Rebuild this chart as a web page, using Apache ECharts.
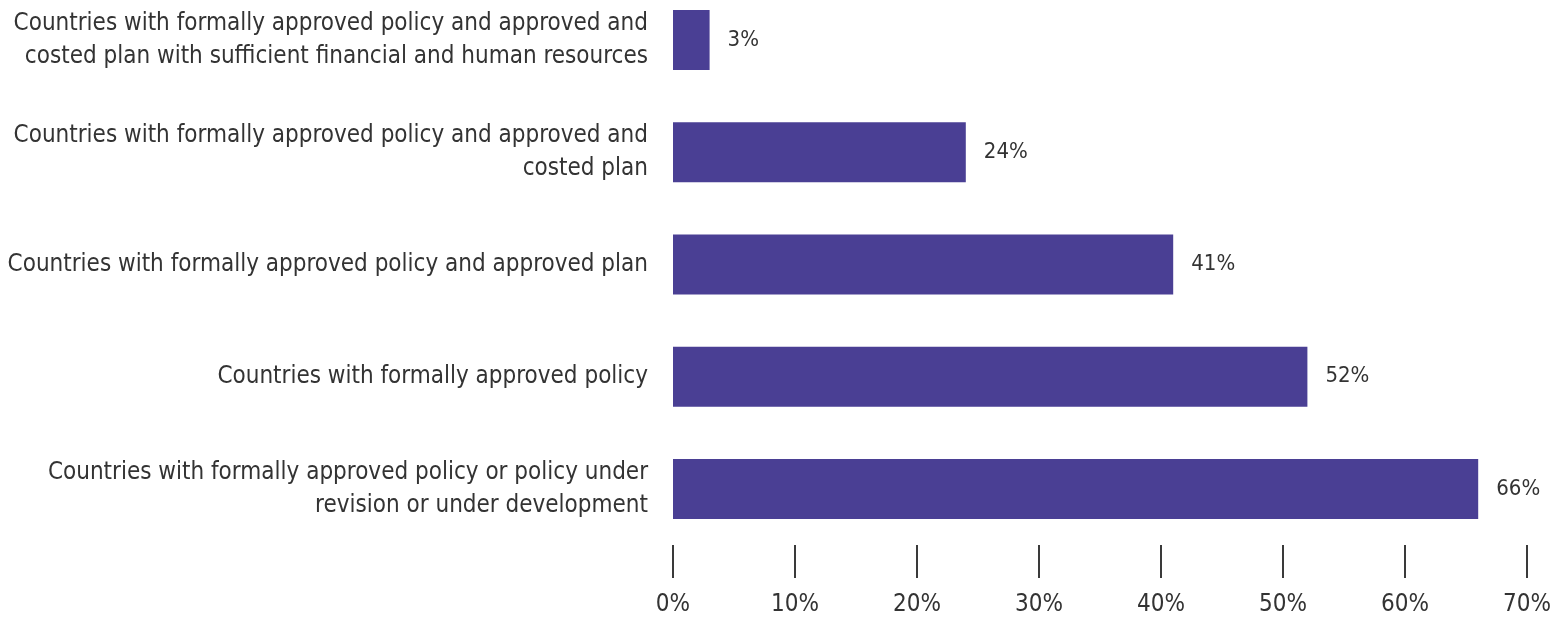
<!DOCTYPE html>
<html>
<head>
<meta charset="utf-8">
<script src="https://cdn.jsdelivr.net/npm/echarts@6/dist/echarts.min.js"></script>
<style>html,body{margin:0;padding:0;background:#fff}#c{width:1555px;height:622px}</style>
</head>
<body>
<div id="c"></div>
<script>
const categories = [
  "Countries with formally approved policy and approved and\ncosted plan with sufficient financial and human resources",
  "Countries with formally approved policy and approved and\ncosted plan",
  "Countries with formally approved policy and approved plan",
  "Countries with formally approved policy",
  "Countries with formally approved policy or policy under\nrevision or under development"
];
const values = [3, 24, 41, 52, 66];
const xTicks = [0, 10, 20, 30, 40, 50, 60, 70];

const FONT = '"Liberation Sans Narrow", "DejaVu Sans Condensed", sans-serif';
const chart = echarts.init(document.getElementById('c'));
chart.setOption({
  animation: false,
  grid: { left: 673, right: 28, top: -16, bottom: 77, outerBoundsMode: 'none', containLabel: false },
  xAxis: {
    type: 'value', min: 0, max: 70, interval: 10,
    axisLine: { show: false },
    splitLine: { show: false },
    axisTick: { show: true, length: 33, lineStyle: { color: '#3a3a3a', width: 2 } },
    axisLabel: { margin: 48, fontFamily: FONT, fontSize: 24, color: '#333',
      formatter: v => xTicks.includes(v) ? v + '%' : '' }
  },
  yAxis: {
    type: 'category', data: categories, inverse: true,
    axisLine: { show: false }, axisTick: { show: false },
    axisLabel: { margin: 25, fontFamily: FONT, fontSize: 24, color: '#333', lineHeight: 33, align: 'right' }
  },
  series: [{
    type: 'bar', data: values, barWidth: 60,
    itemStyle: { color: '#4a3f94' },
    label: { show: true, position: 'right', distance: 18, fontFamily: FONT, fontSize: 22, color: '#333',
      formatter: p => p.value + '%' }
  }]
});
</script>
</body>
</html>
